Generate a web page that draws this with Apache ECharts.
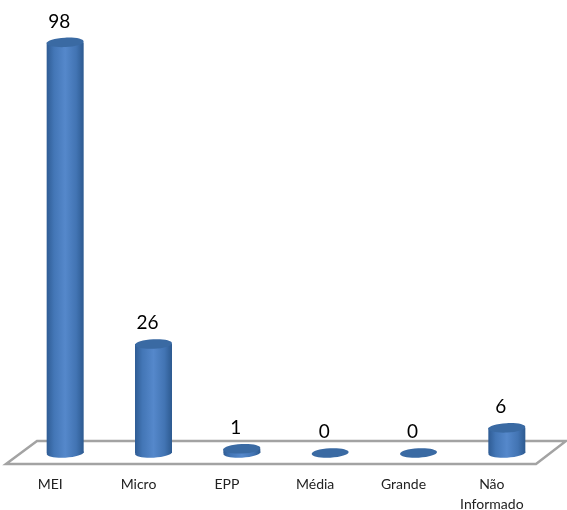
<!DOCTYPE html>
<html><head><meta charset="utf-8">
<style>html,body{margin:0;padding:0;background:#fff}#c{width:567px;height:510px}</style>
<script src="https://cdn.jsdelivr.net/npm/echarts@6/dist/echarts.min.js"></script>
</head><body><div id="c"></div>
<script>
const categories = ['MEI','Micro','EPP','Média','Grande','Não\nInformado'];
const values = [98,26,1,0,0,6];
const FONT = 'Lato, "Open Sans", sans-serif';
const RX = 18.5, RY = 4.7, TILT = 0.05;
const sideGrad = () => new echarts.graphic.LinearGradient(0,0,1,0,[
  {offset:0,color:'#2f5c94'},{offset:0.2,color:'#4376b6'},{offset:0.5,color:'#5588cb'},
  {offset:0.8,color:'#4274b3'},{offset:1,color:'#2d5a90'}]);
function ell(cx,cy,fill){
  return {type:'ellipse',x:cx,y:cy,rotation:TILT,shape:{cx:0,cy:0,rx:RX,ry:RY},style:{fill:fill}};
}
function renderBar(params,api){
  const i = api.value(0), v = api.value(1);
  const base = api.coord([i,0]), top = api.coord([i,v]);
  const cx = base[0], children = [];
  if (v > 0){
    children.push(ell(cx,base[1],sideGrad()));
    children.push({type:'rect',shape:{x:cx-RX,y:top[1],width:RX*2,height:base[1]-top[1]},style:{fill:sideGrad()}});
  }
  children.push(ell(cx,top[1],'#3a6aa3'));
  children.push({type:'text',x:cx-6,y:top[1]-21,style:{text:String(v),font:'19px '+FONT,fill:'#000',align:'center',verticalAlign:'middle'}});
  return {type:'group',children:children};
}
function renderFloor(params,api){
  const cs = params.coordSys, y0 = api.coord([0,0])[1];
  const x0 = cs.x, x1 = cs.x+cs.width;
  return {type:'polygon',shape:{points:[[x0-15,y0+11],[x1-15,y0+11],[x1+15,y0-12],[x0+16,y0-12]]},
    style:{fill:'#fff',stroke:'#a3a3a3',lineWidth:2.5}};
}
echarts.init(document.getElementById('c'),null,{renderer:'canvas'}).setOption({
  animation:false,
  backgroundColor:'#fff',
  grid:{left:21,top:34,width:530,height:419,outerBoundsMode:'none',containLabel:false},
  xAxis:{type:'category',data:categories,axisLine:{show:false},axisTick:{show:false},splitLine:{show:false},
    axisLabel:{interval:0,hideOverlap:false,fontFamily:FONT,fontSize:14,color:'#222',lineHeight:20,margin:21,padding:[0,30,0,0]}},
  yAxis:{type:'value',min:0,max:100,show:false},
  series:[
    {type:'custom',z:1,clip:false,renderItem:renderFloor,data:[[0,0]],silent:true},
    {type:'custom',z:2,clip:false,renderItem:renderBar,data:values.map((v,i)=>[i,v]),encode:{x:0,y:1}}
  ]
});
</script></body></html>
